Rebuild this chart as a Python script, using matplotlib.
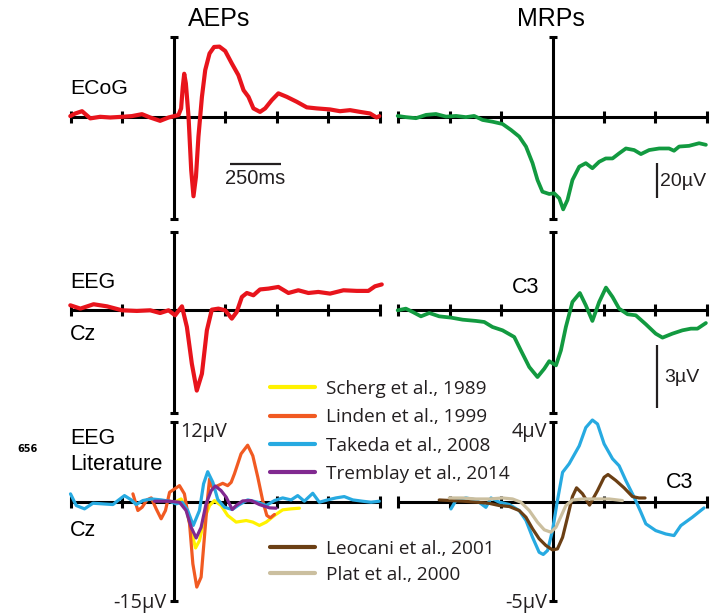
import numpy as np
import matplotlib
matplotlib.use("Agg")
import matplotlib.pyplot as plt

W, H = 713, 616
plt.rcParams["font.family"] = ["Liberation Sans", "DejaVu Sans"]
LEG_FONT = ["Open Sans", "DejaVu Sans"]

RED = "#e8141c"
GREEN = "#129a40"
YELLOW = "#fff200"
ORANGE = "#f15a22"
BLUE = "#27aae1"
PURPLE = "#812990"
BROWN = "#6b3f14"
BEIGE = "#cbbf9f"
INK = "#231f20"

# ---- grand averages (ms, uV) ----
ecog_aep_t = [-501, -477, -444, -404, -356, -307, -250, -202, -153, -113, -65, -24,
              24, 37, 45, 52, 60, 73, 86, 97, 109, 121, 138, 154, 175, 197, 223, 251,
              283, 315, 340, 364, 388, 420, 445, 477, 509, 550, 598, 647, 695, 760,
              808, 857, 906, 954, 986, 999]
ecog_aep_v = [0.3, 1.8, 3.1, -1.0, -0.1, -0.5, -0.1, 0.3, 1.4, -0.5, -2.4, -0.5,
              0.9, 4.7, 17.0, 24.5, 19.0, -0.1, -30.6, -45.5, -34.4, -11.5, 11.3, 26.6,
              36.1, 39.8, 40.0, 37.5, 30.4, 23.7, 15.1, 11.3, 4.7, 2.7, 4.7, 9.4, 13.3,
              11.3, 8.5, 5.3, 4.7, 4.1, 3.1, 3.7, 2.7, 1.8, -0.5, 0.3]

ecog_mrp_t = [-753, -713, -664, -615, -567, -518, -469, -421, -381, -340, -292, -243,
              -202, -162, -129, -97, -73, -49, -16, 8, 33, 52, 73, 97, 130, 162, 194,
              227, 259, 292, 324, 357, 397, 430, 470, 519, 567, 591, 616, 664, 713, 746]
ecog_mrp_v = [0.4, -0.3, -0.9, 1.0, 1.5, 0, 0.4, -0.3, 0.4, -1.9, -2.9, -4.2, -7.6,
              -11.4, -17.1, -26.6, -36.2, -42.9, -44.2, -43.8, -46.7, -53.0, -47.6,
              -36.2, -28.6, -26.6, -29.5, -25.8, -23.9, -23.9, -21, -18.2, -19.1, -21.4,
              -19.1, -18.2, -18.2, -19.5, -17.1, -16.7, -15.2, -16.1]

eeg_aep_t = [-501, -452, -388, -323, -250, -178, -113, -65, -24, 8, 41, 65, 89, 113,
             138, 162, 186, 218, 251, 283, 307, 332, 356, 388, 420, 461, 509, 558, 606,
             655, 703, 760, 825, 890, 946, 978, 1011]
eeg_aep_v = [0.24, 0.08, 0.29, 0.19, 0, -0.03, 0, -0.13, 0, -0.24, 0.19, -0.8, -2.56,
             -3.85, -3.04, -0.96, 0.03, 0.08, 0, -0.4, -0.08, 0.64, 0.83, 0.72, 1.0,
             1.04, 1.12, 0.83, 0.96, 0.83, 0.88, 0.8, 0.96, 0.93, 0.93, 1.15, 1.24]

eeg_mrp_t = [-753, -713, -680, -640, -599, -551, -494, -437, -372, -332, -292, -243,
             -186, -154, -113, -73, -40, -16, 17, 41, 65, 97, 133, 162, 194, 227, 260,
             292, 324, 365, 405, 454, 502, 535, 583, 632, 673, 705, 746]
eeg_mrp_v = [0, 0.08, -0.08, -0.29, -0.13, -0.29, -0.35, -0.45, -0.51, -0.56, -0.8,
             -0.96, -1.28, -1.92, -2.72, -3.2, -2.8, -2.44, -2.64, -1.92, -0.8, 0.4,
             0.83, 0.24, -0.51, 0.4, 1.09, 0.64, 0.08, -0.19, -0.24, -0.67, -1.12,
             -1.31, -1.12, -0.96, -0.88, -0.88, -0.61]

# ---- published AEPs at Cz ----
scherg_t = [-20, 5, 37, 61, 86, 107, 126, 150, 175, 199, 231, 263, 304, 353, 385, 417,
            450, 490, 530, 571, 611]
scherg_v = [0.05, -0.1, 0.4, -0.85, -4.4, -7.0, -5.9, -2.6, -0.6, 0.15, -0.6, -2.1,
            -3.1, -2.86, -3.1, -3.6, -3.1, -2.1, -1.25, -1.1, -1.0]

linden_t = [-197, -173, -152, -129, -108, -84, -60, -39, -19, 5, 29, 53, 78, 94, 113,
            134, 150, 166, 175, 191, 215, 239, 263, 280, 296, 328, 360, 385, 409, 433,
            453, 470, 490]
linden_v = [1.16, -1.35, -0.85, 0.25, 0.55, -1.1, -2.6, -1.35, 1.4, 1.9, 2.4, 1.16,
            -3.36, -9.4, -12.9, -11.4, -5.4, 0.65, 3.4, 1.9, 2.4, 2.75, 2.4, 2.9, 4.2,
            7.2, 8.5, 6.9, 3.7, 0.15, -2.1, -2.45, -1.95]

takeda_aep_t = [-500, -472, -432, -391, -343, -294, -270, -238, -205, -181, -149, -108,
                -60, -19, 13, 42, 69, 96, 126, 146, 166, 191, 215, 247, 285, 320, 360,
                409, 450, 490, 530, 571, 603, 635, 676, 708, 748, 789, 829, 870, 918,
                959, 999]
takeda_aep_v = [1.16, -0.6, -1.1, -0.25, -0.35, -0.45, 0.15, 0.9, 0.25, -0.45, 0.15,
                0.4, 0.25, 0.05, -0.35, -0.1, -1.35, -3.6, -1.35, 2.67, 4.5, 2.9, 0.3,
                -0.85, -1.2, -0.45, 0.25, -0.1, -0.6, 0.15, 0.55, 0.25, 0.9, 0.05, 1.25,
                -0.1, 0.25, 0.55, 0.75, 0.25, 0.05, -0.1, 0.05]

tremblay_t = [-92, -19, 29, 61, 86, 110, 134, 158, 183, 203, 231, 256, 285, 304, 336,
              377, 417, 466, 498]
tremblay_v = [0.05, 0.05, -0.1, -1.35, -3.9, -5.5, -3.9, -0.35, 1.65, 2.35, 1.65, 0.65,
              -1.2, -0.6, 0.1, 0.15, -0.45, -0.95, -1.0]

# ---- published MRPs at C3 ----
takeda_mrp_t = [-494, -470, -421, -372, -324, -299, -259, -210, -162, -129, -97, -65,
                -45, -24, 0, 24, 49, 81, 130, 162, 194, 219, 251, 292, 324, 357, 397,
                430, 454, 502, 551, 591, 624, 680, 737]
takeda_mrp_v = [-0.37, 0.05, 0.18, 0.08, -0.29, 0.18, -0.03, -0.15, -0.45, -0.95, -1.8,
                -2.55, -2.66, -2.46, -1.46, 0.05, 1.47, 1.9, 2.8, 3.72, 4.1, 3.9, 2.9,
                2.15, 1.8, 1.05, 0.22, -0.54, -1.12, -1.46, -1.63, -1.71, -1.21, -0.79,
                -0.32]

leocani_t = [-551, -494, -437, -372, -308, -259, -210, -162, -129, -97, -65, -32, 0, 24,
             49, 73, 97, 117, 146, 180, 219, 251, 270, 308, 348, 389, 421, 450]
leocani_v = [0.08, 0.05, 0.02, -0.03, -0.09, -0.2, -0.25, -0.45, -0.79, -1.37, -1.87,
             -2.21, -2.43, -2.38, -1.8, -0.79, 0.25, 0.69, 0.39, -0.18, 0.55, 1.22, 1.36,
             1.06, 0.69, 0.25, 0.18, 0.18]

plat_t = [-502, -437, -372, -308, -243, -194, -154, -113, -73, -40, -8, 17, 41, 65, 97,
          146, 211, 276, 340]
plat_v = [0.18, 0.18, 0.13, 0.13, 0.18, 0.13, -0.03, -0.45, -1.04, -1.42, -1.54, -1.29,
          -0.75, -0.2, 0.08, 0.13, 0.13, 0.13, 0.05]

lit_aep_labels = ["Scherg et al., 1989", "Linden et al., 1999",
                  "Takeda et al., 2008", "Tremblay et al., 2014"]
lit_mrp_labels = ["Leocani et al., 2001", "Plat et al., 2000"]


fig = plt.figure(figsize=(W / 100, H / 100), dpi=100, facecolor="white")


def fpos(x, y):
    return x / W, 1 - y / H


def panel(x0, x1, y0, y1, xlim, ylim):
    ax = fig.add_axes([x0 / W, 1 - y1 / H, (x1 - x0) / W, (y1 - y0) / H])
    ax.set_xlim(*xlim)
    ax.set_ylim(*ylim)
    ax.patch.set_visible(False)
    for s in ("top", "right"):
        ax.spines[s].set_visible(False)
    for s in ("left", "bottom"):
        ax.spines[s].set_position(("data", 0))
        ax.spines[s].set_linewidth(2.2)
        ax.spines[s].set_capstyle("butt")
    ax.set_xticks(np.arange(xlim[0], xlim[1] + 1, 250))
    ax.set_yticks(ylim)
    ax.tick_params(axis="x", direction="inout", length=9, width=2.2,
                   labelbottom=False)
    ax.tick_params(axis="y", direction="inout", length=6, width=2.2,
                   labelleft=False)
    return ax


LX = (70.5, 379.5)
RX = (398.3, 706.7)
AEP_LIM = (-500, 1000)
MRP_LIM = (-750, 750)

ax_ecog_a = panel(*LX, 37, 219, AEP_LIM, (-58.5, 45.5))
ax_ecog_m = panel(*RX, 37, 219, MRP_LIM, (-58.5, 45.5))
ax_eeg_a = panel(*LX, 232.5, 412.5, AEP_LIM, (-4.9, 3.73))
ax_eeg_m = panel(*RX, 232.5, 412.5, MRP_LIM, (-4.9, 3.73))
ax_lit_a = panel(*LX, 422, 601, AEP_LIM, (-15, 12))
ax_lit_m = panel(*RX, 422, 601, MRP_LIM, (-5, 4))

kw = dict(solid_capstyle="round", solid_joinstyle="round", zorder=3, clip_on=False)
ax_ecog_a.plot(ecog_aep_t, ecog_aep_v, color=RED, lw=3.0, **kw)
ax_ecog_m.plot(ecog_mrp_t, ecog_mrp_v, color=GREEN, lw=2.7, **kw)
ax_eeg_a.plot(eeg_aep_t, eeg_aep_v, color=RED, lw=3.0, **kw)
ax_eeg_m.plot(eeg_mrp_t, eeg_mrp_v, color=GREEN, lw=2.7, **kw)

h_scherg, = ax_lit_a.plot(scherg_t, scherg_v, color=YELLOW, lw=2.3, **kw)
h_linden, = ax_lit_a.plot(linden_t, linden_v, color=ORANGE, lw=2.3, **kw)
h_takeda, = ax_lit_a.plot(takeda_aep_t, takeda_aep_v, color=BLUE, lw=2.3, **kw)
h_tremblay, = ax_lit_a.plot(tremblay_t, tremblay_v, color=PURPLE, lw=2.3, **kw)
ax_lit_m.plot(takeda_mrp_t, takeda_mrp_v, color=BLUE, lw=2.3, **kw)
h_leocani, = ax_lit_m.plot(leocani_t, leocani_v, color=BROWN, lw=2.3, **kw)
h_plat, = ax_lit_m.plot(plat_t, plat_v, color=BEIGE, lw=2.3, **kw)

# scale bars
ax_ecog_a.plot([272, 272 + 250], [-27.3, -27.3], color=INK, lw=1.6,
               solid_capstyle="butt")
ax_ecog_a.text(397, -35.5, "250ms", ha="center", va="center", fontsize=14.5,
               color=INK)
ax_ecog_m.plot([506, 506], [-46.7, -46.7 + 20], color=INK, lw=1.6,
               solid_capstyle="butt")
ax_ecog_m.text(524, -37, "20µV", ha="left", va="center", fontsize=14,
               color=INK, clip_on=False)
ax_eeg_m.plot([506, 506], [-4.68, -4.68 + 3], color=INK, lw=1.6,
              solid_capstyle="butt")
ax_eeg_m.text(545, -3.2, "3µV", ha="left", va="center", fontsize=14,
              color=INK, clip_on=False)

# titles and channel labels
fig.text(*fpos(219, 19), "AEPs", ha="center", va="center", fontsize=18)
fig.text(*fpos(551, 19), "MRPs", ha="center", va="center", fontsize=18)
fig.text(*fpos(70, 88), "ECoG", ha="left", va="center", fontsize=15.3)
fig.text(*fpos(70, 282), "EEG", ha="left", va="center", fontsize=15.5)
fig.text(*fpos(70, 334), "Cz", ha="left", va="center", fontsize=15.5)
fig.text(*fpos(526, 288), "C3", ha="center", va="center", fontsize=15.5)
fig.text(*fpos(70, 439), "EEG", ha="left", va="center", fontsize=15.5)
fig.text(*fpos(70, 464), "Literature", ha="left", va="center", fontsize=15.8)
fig.text(*fpos(70, 530), "Cz", ha="left", va="center", fontsize=15.5)
fig.text(*fpos(680, 482), "C3", ha="center", va="center", fontsize=15.5)
fig.text(*fpos(27, 449.5), "656", ha="center", va="center", fontsize=7,
         fontweight="bold", family="DejaVu Sans")

fig.text(*fpos(180, 432), "12µV", ha="left", va="center", fontsize=14.3,
         family=LEG_FONT, color=INK)
fig.text(*fpos(167, 603), "-15µV", ha="right", va="center", fontsize=14.3,
         family=LEG_FONT, color=INK)
fig.text(*fpos(547, 432), "4µV", ha="right", va="center", fontsize=14.3,
         family=LEG_FONT, color=INK)
fig.text(*fpos(547, 603), "-5µV", ha="right", va="center", fontsize=14.3,
         family=LEG_FONT, color=INK)

leg_kw = dict(loc="upper left", frameon=False, borderpad=0, borderaxespad=0,
              handlelength=2.37, handletextpad=0.58,
              prop={"family": LEG_FONT, "size": 13.7})
leg1 = fig.legend([h_scherg, h_linden, h_takeda, h_tremblay], lit_aep_labels,
                  bbox_to_anchor=fpos(270, 380), labelspacing=0.54, **leg_kw)
leg2 = fig.legend([h_leocani, h_plat], lit_mrp_labels,
                  bbox_to_anchor=fpos(270, 540), labelspacing=0.42, **leg_kw)
for leg in (leg1, leg2):
    for line in leg.get_lines():
        line.set_linewidth(3.0)
    for t in leg.get_texts():
        t.set_color(INK)

fig.savefig("out.png", dpi=100, facecolor="white")
